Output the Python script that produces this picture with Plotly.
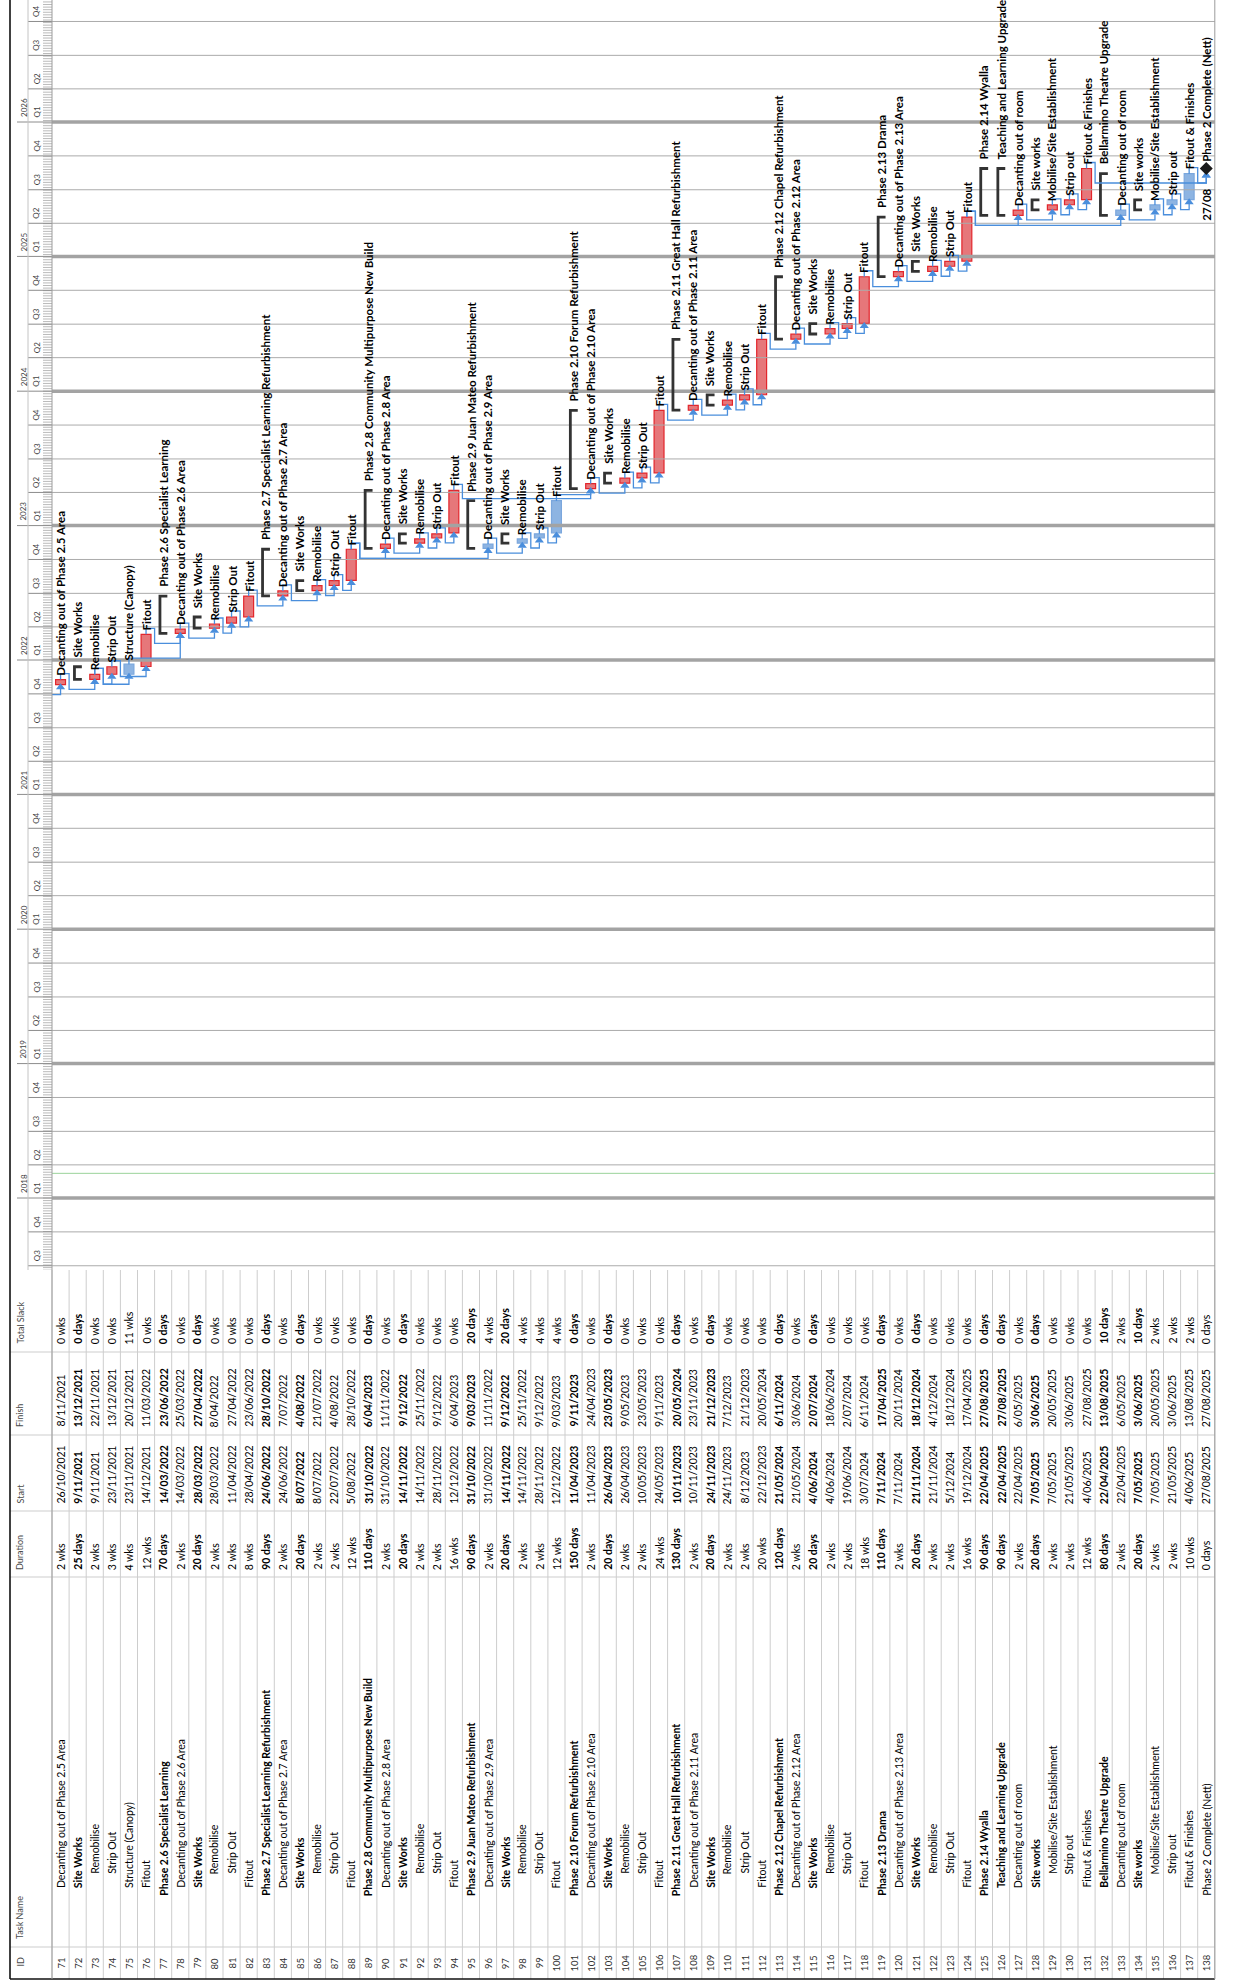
import plotly.graph_objects as go
from datetime import datetime, timedelta

# ---------------- schedule table ----------------
task_ids = list(range(71, 139))

task_names = [
    "Decanting out of Phase 2.5 Area", "Site Works", "Remobilise", "Strip Out", "Structure (Canopy)", "Fitout",
    "Phase 2.6 Specialist Learning", "Decanting out of Phase 2.6 Area", "Site Works", "Remobilise", "Strip Out", "Fitout",
    "Phase 2.7 Specialist Learning Refurbishment", "Decanting out of Phase 2.7 Area", "Site Works", "Remobilise", "Strip Out", "Fitout",
    "Phase 2.8 Community Multipurpose New Build", "Decanting out of Phase 2.8 Area", "Site Works", "Remobilise", "Strip Out", "Fitout",
    "Phase 2.9 Juan Mateo Refurbishment", "Decanting out of Phase 2.9 Area", "Site Works", "Remobilise", "Strip Out", "Fitout",
    "Phase 2.10 Forum Refurbishment", "Decanting out of Phase 2.10 Area", "Site Works", "Remobilise", "Strip Out", "Fitout",
    "Phase 2.11 Great Hall Refurbishment", "Decanting out of Phase 2.11 Area", "Site Works", "Remobilise", "Strip Out", "Fitout",
    "Phase 2.12 Chapel Refurbishment", "Decanting out of Phase 2.12 Area", "Site Works", "Remobilise", "Strip Out", "Fitout",
    "Phase 2.13 Drama", "Decanting out of Phase 2.13 Area", "Site Works", "Remobilise", "Strip Out", "Fitout",
    "Phase 2.14 Wyalla", "Teaching and Learning Upgrade", "Decanting out of room", "Site works",
    "Mobilise/Site Establishment", "Strip out", "Fitout & Finishes",
    "Bellarmino Theatre Upgrade", "Decanting out of room", "Site works",
    "Mobilise/Site Establishment", "Strip out", "Fitout & Finishes",
    "Phase 2 Complete (Nett)",
]

durations = [
    "2 wks", "25 days", "2 wks", "3 wks", "4 wks", "12 wks",
    "70 days", "2 wks", "20 days", "2 wks", "2 wks", "8 wks",
    "90 days", "2 wks", "20 days", "2 wks", "2 wks", "12 wks",
    "110 days", "2 wks", "20 days", "2 wks", "2 wks", "16 wks",
    "90 days", "2 wks", "20 days", "2 wks", "2 wks", "12 wks",
    "150 days", "2 wks", "20 days", "2 wks", "2 wks", "24 wks",
    "130 days", "2 wks", "20 days", "2 wks", "2 wks", "20 wks",
    "120 days", "2 wks", "20 days", "2 wks", "2 wks", "18 wks",
    "110 days", "2 wks", "20 days", "2 wks", "2 wks", "16 wks",
    "90 days", "90 days", "2 wks", "20 days", "2 wks", "2 wks", "12 wks",
    "80 days", "2 wks", "20 days", "2 wks", "2 wks", "10 wks",
    "0 days",
]

starts = [
    "26/10/2021", "9/11/2021", "9/11/2021", "23/11/2021", "23/11/2021", "14/12/2021",
    "14/03/2022", "14/03/2022", "28/03/2022", "28/03/2022", "11/04/2022", "28/04/2022",
    "24/06/2022", "24/06/2022", "8/07/2022", "8/07/2022", "22/07/2022", "5/08/2022",
    "31/10/2022", "31/10/2022", "14/11/2022", "14/11/2022", "28/11/2022", "12/12/2022",
    "31/10/2022", "31/10/2022", "14/11/2022", "14/11/2022", "28/11/2022", "12/12/2022",
    "11/04/2023", "11/04/2023", "26/04/2023", "26/04/2023", "10/05/2023", "24/05/2023",
    "10/11/2023", "10/11/2023", "24/11/2023", "24/11/2023", "8/12/2023", "22/12/2023",
    "21/05/2024", "21/05/2024", "4/06/2024", "4/06/2024", "19/06/2024", "3/07/2024",
    "7/11/2024", "7/11/2024", "21/11/2024", "21/11/2024", "5/12/2024", "19/12/2024",
    "22/04/2025", "22/04/2025", "22/04/2025", "7/05/2025", "7/05/2025", "21/05/2025", "4/06/2025",
    "22/04/2025", "22/04/2025", "7/05/2025", "7/05/2025", "21/05/2025", "4/06/2025",
    "27/08/2025",
]

finishes = [
    "8/11/2021", "13/12/2021", "22/11/2021", "13/12/2021", "20/12/2021", "11/03/2022",
    "23/06/2022", "25/03/2022", "27/04/2022", "8/04/2022", "27/04/2022", "23/06/2022",
    "28/10/2022", "7/07/2022", "4/08/2022", "21/07/2022", "4/08/2022", "28/10/2022",
    "6/04/2023", "11/11/2022", "9/12/2022", "25/11/2022", "9/12/2022", "6/04/2023",
    "9/03/2023", "11/11/2022", "9/12/2022", "25/11/2022", "9/12/2022", "9/03/2023",
    "9/11/2023", "24/04/2023", "23/05/2023", "9/05/2023", "23/05/2023", "9/11/2023",
    "20/05/2024", "23/11/2023", "21/12/2023", "7/12/2023", "21/12/2023", "20/05/2024",
    "6/11/2024", "3/06/2024", "2/07/2024", "18/06/2024", "2/07/2024", "6/11/2024",
    "17/04/2025", "20/11/2024", "18/12/2024", "4/12/2024", "18/12/2024", "17/04/2025",
    "27/08/2025", "27/08/2025", "6/05/2025", "3/06/2025", "20/05/2025", "3/06/2025", "27/08/2025",
    "13/08/2025", "6/05/2025", "3/06/2025", "20/05/2025", "3/06/2025", "13/08/2025",
    "27/08/2025",
]

total_slack = [
    "0 wks", "0 days", "0 wks", "0 wks", "11 wks", "0 wks",
    "0 days", "0 wks", "0 days", "0 wks", "0 wks", "0 wks",
    "0 days", "0 wks", "0 days", "0 wks", "0 wks", "0 wks",
    "0 days", "0 wks", "0 days", "0 wks", "0 wks", "0 wks",
    "20 days", "4 wks", "20 days", "4 wks", "4 wks", "4 wks",
    "0 days", "0 wks", "0 days", "0 wks", "0 wks", "0 wks",
    "0 days", "0 wks", "0 days", "0 wks", "0 wks", "0 wks",
    "0 days", "0 wks", "0 days", "0 wks", "0 wks", "0 wks",
    "0 days", "0 wks", "0 days", "0 wks", "0 wks", "0 wks",
    "0 days", "0 days", "0 wks", "0 days", "0 wks", "0 wks", "0 wks",
    "10 days", "2 wks", "10 days", "2 wks", "2 wks", "2 wks",
    "0 days",
]

summary_ids = [72, 77, 79, 83, 85, 89, 91, 95, 97, 101, 103, 107, 109, 113, 115,
               119, 121, 125, 126, 128, 132, 134]
milestone_ids = [138]
milestone_date_labels = ["27/08"]
phase_ids = [77, 83, 89, 95, 101, 107, 113, 119, 125, 138]
sub_ids = [73, 74, 80, 81, 86, 87, 92, 93, 98, 99, 104, 105, 110, 111,
           116, 117, 122, 123, 129, 130, 135, 136]

# finish-to-start dependencies (predecessor id, successor id); 70 lies above this page
links = [
    (70, 71), (71, 73), (73, 74), (73, 75), (74, 76), (75, 78), (76, 78),
    (78, 80), (80, 81), (81, 82), (82, 84),
    (84, 86), (86, 87), (87, 88), (88, 90), (88, 96),
    (90, 92), (92, 93), (93, 94), (94, 102),
    (96, 98), (98, 99), (99, 100), (100, 102),
    (102, 104), (104, 105), (105, 106), (106, 108),
    (108, 110), (110, 111), (111, 112), (112, 114),
    (114, 116), (116, 117), (117, 118), (118, 120),
    (120, 122), (122, 123), (123, 124), (124, 127), (124, 133),
    (127, 129), (129, 130), (130, 131), (131, 138),
    (133, 135), (135, 136), (136, 137), (137, 138),
]

year_labels = list(range(2018, 2027))
quarter_labels = ["Q1", "Q2", "Q3", "Q4"]
status_date = "2018-03-09"

# ---------------- geometry ----------------
W, H = 1239, 1988
ROW_LEFT_PX = 52.0
ROW_PX = 17.1
N = len(task_ids)
CHART_BOTTOM_PX = 1270.0
T_A, T_A_PX = datetime(2018, 1, 1), 1198.0
T_B, T_B_PX = datetime(2026, 1, 1), 122.0
PX_PER_DAY = (T_A_PX - T_B_PX) / (T_B - T_A).days


def px_x(px):
    return (px - ROW_LEFT_PX) / ROW_PX


def dpx(px):
    return timedelta(days=px / PX_PER_DAY)


def parse(s):
    return datetime.strptime(s, "%d/%m/%Y")


y_lo = T_A - dpx(CHART_BOTTOM_PX - T_A_PX)
y_hi = T_A + dpx(T_A_PX)
split = 1 - CHART_BOTTOM_PX / H

FONT = "Lato"
LINK_BLUE = "#4A8EDC"

idx = {tid: i for i, tid in enumerate(task_ids)}
t_start = [parse(s) + timedelta(hours=8) for s in starts]
t_finish = [parse(s) + timedelta(hours=17) for s in finishes]
for m in milestone_ids:
    t_start[idx[m]] = t_finish[idx[m]]

fig = go.Figure()


def seg_trace(xs, ys, color, width, yaxis="y"):
    fig.add_trace(go.Scatter(
        x=xs, y=ys, mode="lines", yaxis=yaxis, hoverinfo="skip", showlegend=False,
        line=dict(color=color, width=width),
    ))


# ---------------- timescale and gridlines ----------------
quarters = []
d = datetime(2017, 7, 1)
while d <= datetime(2026, 10, 1):
    quarters.append(d)
    m = d.month + 3
    d = datetime(d.year + (m > 12), (m - 1) % 12 + 1, 1)

# weekly ruler
rx, ry = [], []
w = datetime(2017, 6, 19)
while w < y_hi:
    rx += [px_x(43), px_x(52), None]
    ry += [w, w, None]
    w += timedelta(days=7)
seg_trace(rx, ry, "#A8A8A8", 0.8)

# header ticks
hx, hy = [], []
for q in quarters:
    x0 = px_x(17) if q.month == 1 else px_x(28)
    hx += [x0, px_x(52), None]
    hy += [q, q, None]
seg_trace(hx, hy, "#8C8C8C", 1)

# quarter gridlines in chart
gx, gy = [], []
for q in quarters:
    if q.month != 1:
        gx += [0, N, None]
        gy += [q, q, None]
seg_trace(gx, gy, "#ABABAB", 1)

# year gridlines in chart
yx, yy = [], []
for q in quarters:
    if q.month == 1:
        yx += [0, N, None]
        yy += [q, q, None]
seg_trace(yx, yy, "#A3A3A3", 3.5)

# status date
seg_trace([0, N], [status_date, status_date], "#9AD39A", 1)

# tier separator
seg_trace([px_x(28), px_x(28)], [y_lo, y_hi], "#C4C4C4", 1)

# ---------------- task bars ----------------
for critical, fill, edge in [(True, "#E6777A", "#E3262C"), (False, "#8DB4E2", "#7BA7DD")]:
    bx, bbase, bsize = [], [], []
    for i, tid in enumerate(task_ids):
        if tid in summary_ids or tid in milestone_ids:
            continue
        is_crit = total_slack[i].startswith("0 ")
        if is_crit != critical:
            continue
        bx.append(i + 0.5)
        bbase.append(t_start[i])
        bsize.append((t_finish[i] - t_start[i]).total_seconds() * 1000)
    fig.add_trace(go.Bar(
        x=bx, y=bsize, base=bbase, width=0.58, orientation="v", hoverinfo="skip",
        showlegend=False, marker=dict(color=fill, line=dict(color=edge, width=1.2)),
    ))

# ---------------- summary brackets ----------------
sx, sy = [], []
for tid in summary_ids:
    i = idx[tid]
    c = i + 0.5
    left = c - 3.2 / ROW_PX
    right = c + 4.2 / ROW_PX
    sx += [right, left, left, right, None]
    sy += [t_start[i], t_start[i], t_finish[i], t_finish[i], None]
fig.add_trace(go.Scatter(x=sx, y=sy, mode="lines", hoverinfo="skip", showlegend=False,
                         line=dict(color="#333333", width=2.8)))

# ---------------- dependency links ----------------
UP, DOWN, HEAD = 6.0, 10.0, 4.5
lx, ly, ax, ay = [], [], [], []
for p, s in links:
    si = idx[s]
    xs = si + 0.5
    ss = t_start[si]
    if s in milestone_ids:
        ss = ss - dpx(4.5)
    tip = ss - dpx(HEAD)
    if p not in idx:
        y_dn = ss - dpx(DOWN)
        pts = [(0, y_dn), (xs, y_dn), (xs, tip)]
    else:
        pi = idx[p]
        xp = pi + 0.5
        fp = t_finish[pi]
        y_up = fp + dpx(UP)
        if ss - y_up >= dpx(6):
            pts = [(xp, fp), (xp, y_up), (xs, y_up), (xs, tip)]
        else:
            y_dn = ss - dpx(DOWN)
            xm = pi + 1.0
            pts = [(xp, fp), (xp, y_up), (xm, y_up), (xm, y_dn), (xs, y_dn), (xs, tip)]
    for px_, py_ in pts:
        lx.append(px_)
        ly.append(py_)
    lx.append(None)
    ly.append(None)
    ax.append(xs)
    ay.append(ss - dpx(2.6))
fig.add_trace(go.Scatter(x=lx, y=ly, mode="lines", hoverinfo="skip", showlegend=False,
                         line=dict(color=LINK_BLUE, width=1.3)))
fig.add_trace(go.Scatter(x=ax, y=ay, mode="markers", hoverinfo="skip", showlegend=False,
                         marker=dict(symbol="triangle-up", size=8, color=LINK_BLUE)))

# ---------------- milestone ----------------
mx = [idx[m] + 0.5 for m in milestone_ids]
my = [t_finish[idx[m]] for m in milestone_ids]
fig.add_trace(go.Scatter(x=mx, y=my, mode="markers", hoverinfo="skip", showlegend=False,
                         marker=dict(symbol="diamond", size=10, color="#1A1A1A")))

# ---------------- table grid ----------------
TABLE_TOP, TABLE_BOTTOM = 1270.0, 1979.0
col_lines = [1352.0, 1435.0, 1511.0, 1577.0, 1947.0]
tx, ty = [], []
for k in range(N + 1):
    tx += [k, k, None]
    ty += [TABLE_TOP, TABLE_BOTTOM, None]
for cy in col_lines:
    tx += [px_x(10), N, None]
    ty += [cy, cy, None]
seg_trace(tx, ty, "#CDCDCD", 1, yaxis="y2")
seg_trace([px_x(10), N], [TABLE_TOP - 1, TABLE_TOP - 1], "#8E8E8E", 2, yaxis="y2")
seg_trace([px_x(10), N], [TABLE_BOTTOM, TABLE_BOTTOM], "#111111", 1.6, yaxis="y2")

annotations = []


def ann(x, y, text, yref, size, color="#000000", yanchor="bottom", xanchor="center", xref="x"):
    annotations.append(dict(
        x=x, y=y, xref=xref, yref=yref, text=text, showarrow=False, textangle=-90,
        xanchor=xanchor, yanchor=yanchor, borderpad=0,
        font=dict(family=FONT, size=size, color=color),
    ))


# header cells
HEAD_X = px_x(19.5)
HEAD_C = "#4A4A4A"
ann(HEAD_X, 1345, "Total Slack", "y2", 9, HEAD_C)
ann(HEAD_X, 1428, "Finish", "y2", 9, HEAD_C)
ann(HEAD_X, 1505, "Start", "y2", 9, HEAD_C)
ann(HEAD_X, 1571, "Duration", "y2", 9, HEAD_C)
ann(HEAD_X, 1940, "Task Name", "y2", 9, HEAD_C)
ann(HEAD_X, 1968, "ID", "y2", 9, HEAD_C)

name_bottom = {0: 1897.0, 1: 1889.0, 2: 1875.0}
for i, tid in enumerate(task_ids):
    c = i + 0.5
    bold = tid in summary_ids

    def fmt(t):
        return f"<b>{t}</b>" if bold else t

    lvl = 0 if tid in phase_ids else (2 if tid in sub_ids else 1)
    ann(c, 1963, str(tid), "y2", 9.5, "#333333", yanchor="middle")
    ann(c, name_bottom[lvl], fmt(task_names[i]), "y2", 10.5)
    ann(c, 1571, fmt(durations[i]), "y2", 10.5)
    ann(c, 1505, fmt(starts[i]), "y2", 10.5)
    ann(c, 1428, fmt(finishes[i]), "y2", 10.5)
    ann(c, 1345, fmt(total_slack[i]), "y2", 10.5)

# timescale labels
for yr in year_labels:
    ann(px_x(23.5), datetime(yr, 1, 1) + dpx(4), str(yr), "y", 8, "#444444")
for q in quarters:
    ann(px_x(36.5), q + dpx(3.5), quarter_labels[(q.month - 1) // 3], "y", 8, "#444444")

# bar labels
for i, tid in enumerate(task_ids):
    c = i + 0.5
    if tid in milestone_ids:
        ann(c, t_finish[i] + dpx(6), f"<b>{task_names[i]}</b>", "y", 11.5)
        ann(c, t_finish[i] - dpx(19), f"<b>{milestone_date_labels[milestone_ids.index(tid)]}</b>",
            "y", 11.5, yanchor="top")
        continue
    gap = 8.0 if tid in summary_ids else 3.0
    ann(c, t_finish[i] + dpx(gap), f"<b>{task_names[i]}</b>", "y", 11.5)

# outer borders
shapes = [
    dict(type="line", xref="x", yref="paper", x0=px_x(10), x1=px_x(10), y0=(H - TABLE_BOTTOM) / H, y1=1,
         line=dict(color="#111111", width=1.6)),
    dict(type="line", xref="x", yref="paper", x0=0, x1=0, y0=(H - TABLE_BOTTOM) / H, y1=1,
         line=dict(color="#9C9C9C", width=1)),
    dict(type="line", xref="x", yref="paper", x0=N, x1=N, y0=(H - TABLE_BOTTOM) / H, y1=1,
         line=dict(color="#9C9C9C", width=1)),
]

fig.update_layout(
    width=W, height=H,
    margin=dict(l=0, r=0, t=0, b=0),
    paper_bgcolor="white", plot_bgcolor="white",
    barmode="overlay", showlegend=False,
    xaxis=dict(range=[px_x(0), px_x(W)], domain=[0, 1], visible=False, fixedrange=True),
    yaxis=dict(type="date", range=[y_lo, y_hi], domain=[split, 1], visible=False, fixedrange=True),
    yaxis2=dict(range=[H, CHART_BOTTOM_PX], domain=[0, split], visible=False, anchor="x", fixedrange=True),
    annotations=annotations,
    shapes=shapes,
    font=dict(family=FONT),
)

fig.write_html("out.html")
